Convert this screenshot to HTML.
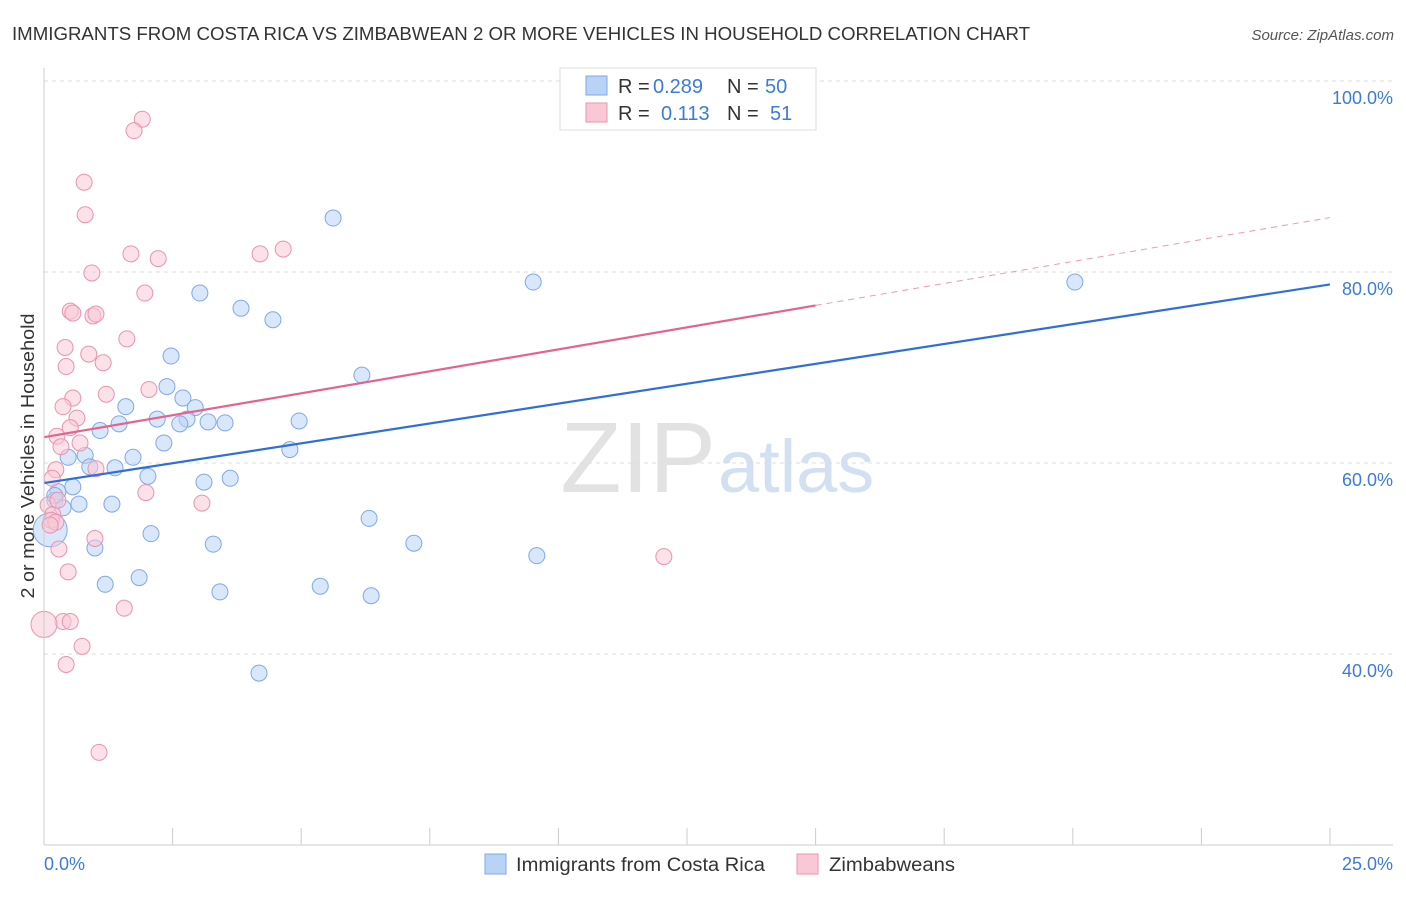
<!DOCTYPE html>
<html><head><meta charset="utf-8"><style>
body{margin:0;background:#fff;font-family:"Liberation Sans",sans-serif;}
svg text{font-family:"Liberation Sans",sans-serif;}
</style></head><body>
<svg id="chart" width="1406" height="892" xmlns="http://www.w3.org/2000/svg">
<text x="12" y="40" font-size="18" fill="#333" textLength="1018" lengthAdjust="spacingAndGlyphs">IMMIGRANTS FROM COSTA RICA VS ZIMBABWEAN 2 OR MORE VEHICLES IN HOUSEHOLD CORRELATION CHART</text>
<text x="1394" y="40" font-size="15" fill="#555" font-style="italic" text-anchor="end">Source: ZipAtlas.com</text>
<text x="0" y="0" transform="translate(34,456) rotate(-90)" font-size="18" fill="#333" text-anchor="middle" textLength="285" lengthAdjust="spacingAndGlyphs">2 or more Vehicles in Household</text>
<text x="716" y="492" font-size="100" fill="#e2e2e2" font-family="Liberation Serif" text-anchor="end">ZIP</text>
<text x="718" y="492" font-size="74" fill="#d3e0f2" text-anchor="start">atlas</text>
<g id="grid"></g><g id="pts"></g><g id="lines"></g>
<line x1="44" y1="68" x2="44" y2="845" stroke="#ccc"/>
<line x1="44" y1="845" x2="1393" y2="845" stroke="#ccc"/>
<text x="44" y="870" font-size="18" fill="#3d7bd9">0.0%</text>
<text x="1393" y="870" font-size="18" fill="#3d7bd9" text-anchor="end">25.0%</text>
<g>
<rect x="560" y="68" width="256" height="62" fill="#fff" stroke="#ddd"/>
<rect x="586" y="76" width="21" height="19" fill="#b9d3f6" stroke="#7fa9e6"/>
<rect x="586" y="103" width="21" height="19" fill="#f8c8d6" stroke="#eb93ae"/>
<text x="618" y="93" font-size="20" fill="#333">R = <tspan x="653" fill="#3d7bd9">0.289</tspan><tspan x="727">N = </tspan><tspan x="765" fill="#3d7bd9">50</tspan></text>
<text x="618" y="120" font-size="20" fill="#333">R = <tspan x="661" fill="#3d7bd9">0.113</tspan><tspan x="727">N = </tspan><tspan x="770" fill="#3d7bd9">51</tspan></text>
</g>
<g>
<rect x="485" y="854" width="21" height="20" fill="#b9d3f6" stroke="#7fa9e6"/>
<text x="516" y="871" font-size="19" fill="#333" textLength="249" lengthAdjust="spacingAndGlyphs">Immigrants from Costa Rica</text>
<rect x="797" y="854" width="21" height="20" fill="#f8c8d6" stroke="#eb93ae"/>
<text x="829" y="871" font-size="19" fill="#333" textLength="126" lengthAdjust="spacingAndGlyphs">Zimbabweans</text>
</g>
</svg>
<script>
const yTicks=[100,80,60,40];
const xTickCount=10;
const blueX=[5.62,9.51,20.04,3.03,3.83,4.45,2.47,6.18,2.39,2.70,1.59,2.94,2.20,2.78,1.46,2.64,3.19,3.52,4.96,1.09,2.33,4.78,0.80,0.47,1.73,0.89,1.38,2.02,3.11,3.62,0.56,0.27,0.21,0.68,1.32,0.37,6.32,2.08,0.99,3.29,7.19,9.58,1.19,1.85,5.37,3.42,6.36,4.18,0.12,0.21];
const blueY=[85.65,78.95,78.95,77.8,76.2,75.0,71.2,69.2,68.0,66.8,65.9,65.8,64.6,64.6,64.1,64.1,64.3,64.2,64.4,63.4,62.1,61.4,60.8,60.6,60.6,59.6,59.5,58.6,58.0,58.4,57.5,57.0,56.1,55.7,55.7,55.3,54.2,52.6,51.1,51.5,51.6,50.3,47.3,48.0,47.1,46.5,46.1,38.0,53.0,56.6];
const pinkX=[1.91,1.75,0.78,0.80,1.69,2.22,4.20,4.65,0.93,1.96,0.51,0.56,0.95,1.01,1.61,0.41,0.87,1.15,0.43,2.04,1.21,0.56,0.37,0.64,0.51,0.25,0.70,0.33,1.01,0.23,0.16,1.98,3.07,0.08,0.17,0.14,0.23,0.99,0.29,12.05,0.47,1.56,0.37,0.51,0.0,0.74,0.43,1.07,0.12,0.27];
const pinkY=[96.0,94.8,89.4,86.0,81.9,81.4,81.9,82.4,79.9,77.8,75.9,75.7,75.4,75.6,73.0,72.1,71.4,70.5,70.1,67.7,67.2,66.8,65.9,64.7,63.7,62.8,62.1,61.7,59.4,59.3,58.4,56.9,55.8,55.6,54.6,54.0,53.8,52.1,51.0,50.2,48.6,44.8,43.4,43.4,43.1,40.8,38.9,29.7,53.5,56.1];
const blueBig=[48]; const pinkBig=[44];
const blueTrend=[57.9,78.7]; const pinkTrend=[62.7,85.7]; const pinkSolidEnd=15;
const NS="http://www.w3.org/2000/svg";
const X=v=>44+v/25*1286, Y=v=>463-(v-60)*9.55;
function mk(t,a,p){const e=document.createElementNS(NS,t);for(const k in a)e.setAttribute(k,a[k]);p.appendChild(e);return e;}
const grid=document.getElementById('grid');
yTicks.forEach(t=>{
 const l=mk('line',{x1:44,x2:1393,y1:Y(t),y2:Y(t),stroke:'#ddd','stroke-dasharray':'4,4'},grid);
 
 
 const tx=mk('text',{x:1393,y:Y(t)+23,'font-size':18,fill:'#3d7bd9','text-anchor':'end'},grid);
 tx.textContent=t.toFixed(1)+'%';
 
 
});
for(let i=1;i<=xTickCount;i++){
 const l=mk('line',{x1:X(i*2.5),x2:X(i*2.5),y1:828,y2:845,stroke:'#ccc'},grid);
 
 
}
const pts=document.getElementById('pts');
function draw(xs,ys,big,r,fill,stroke,name){
 xs.forEach((x,i)=>{
  const c=mk('circle',{cx:X(x),cy:Y(ys[i]),r:big.includes(i)?r:8,fill:fill,'fill-opacity':0.55,stroke:stroke,'stroke-width':1},pts);
  
  
 });
}
draw(blueX,blueY,blueBig,17,'#b9d3f6','#7fa9e6','costa-rica-point');
draw(pinkX,pinkY,pinkBig,13,'#f8c8d6','#eb93ae','zimbabwean-point');
const lines=document.getElementById('lines');
let b=mk('line',{x1:X(0),y1:Y(blueTrend[0]),x2:X(25),y2:Y(blueTrend[1]),stroke:'#2f6fd6','stroke-width':2.2},lines);


const pm=v=>pinkTrend[0]+(pinkTrend[1]-pinkTrend[0])*v/25;
let p=mk('line',{x1:X(0),y1:Y(pm(0)),x2:X(pinkSolidEnd),y2:Y(pm(pinkSolidEnd)),stroke:'#e2648f','stroke-width':2.2},lines);


let pd=mk('line',{x1:X(pinkSolidEnd),y1:Y(pm(pinkSolidEnd)),x2:X(25),y2:Y(pm(25)),stroke:'#e99ab5','stroke-width':1,'stroke-dasharray':'6,5'},lines);


</script>
</body></html>
